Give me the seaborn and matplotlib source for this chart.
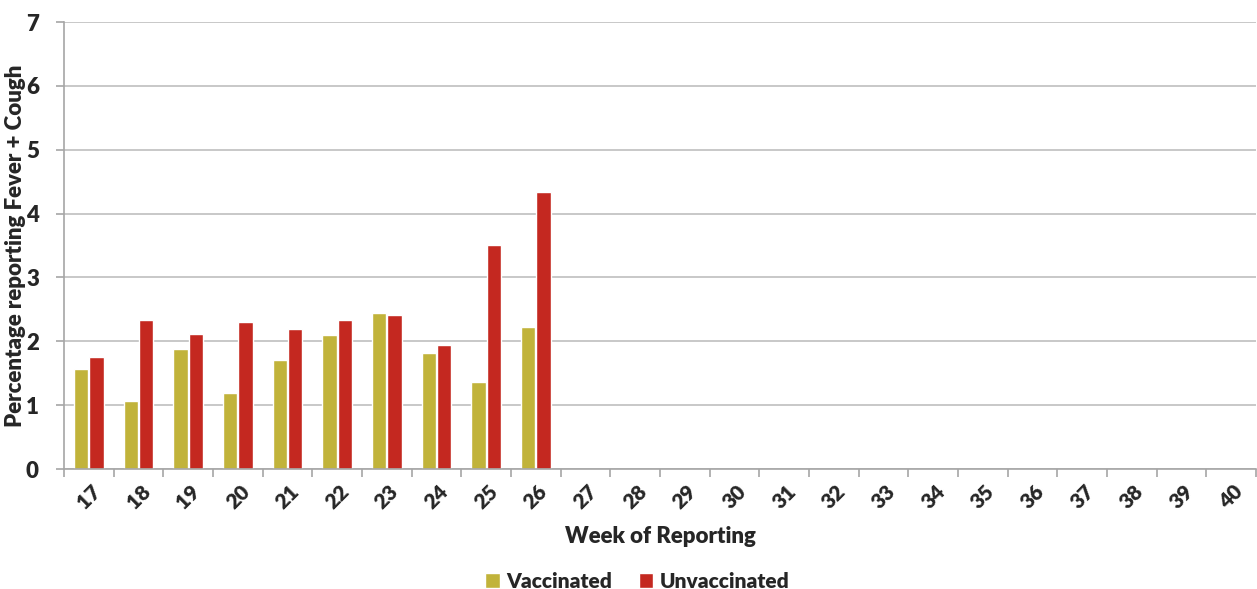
import numpy as np
import pandas as pd
import seaborn as sns
import matplotlib.pyplot as plt
from matplotlib.ticker import FixedLocator

# -------------------------------
# DATA
# -------------------------------
weeks = [str(w) for w in range(17, 41)]
vaccinated = [1.56, 1.07, 1.88, 1.19, 1.71, 2.10, 2.45, 1.82, 1.37, 2.22]
unvaccinated = [1.75, 2.33, 2.11, 2.30, 2.19, 2.34, 2.41, 1.94, 3.51, 4.34]
series_names = ["Vaccinated", "Unvaccinated"]
colors = ["#C1B33A", "#C42820"]

rows = []
for i, w in enumerate(weeks):
    v = vaccinated[i] if i < len(vaccinated) else np.nan
    u = unvaccinated[i] if i < len(unvaccinated) else np.nan
    rows.append({"week": w, "group": series_names[0], "pct": v})
    rows.append({"week": w, "group": series_names[1], "pct": u})
df = pd.DataFrame(rows)

# -------------------------------
# STYLE
# -------------------------------
sns.set_theme(style="white")
plt.rcParams["font.family"] = ["Lato", "DejaVu Sans"]
W = "heavy"

fig = plt.figure(figsize=(12.57, 5.89), dpi=100)
ax = fig.add_axes([0.0509, 0.2037, 0.9483, 0.7589])

sns.barplot(
    data=df.dropna(),
    x="week",
    y="pct",
    hue="group",
    order=weeks,
    hue_order=series_names,
    palette=colors,
    width=0.62,
    gap=0.07,
    errorbar=None,
    saturation=1,
    ax=ax,
)

ax.set_xlim(-0.5, len(weeks) - 0.5)
ax.set_ylim(0, 7)
ax.set_yticks(range(0, 8))
ax.yaxis.grid(True, color="#BFBFBF", linewidth=1.2)
ax.set_axisbelow(True)

for side in ["top", "right"]:
    ax.spines[side].set_visible(False)
for side in ["left", "bottom"]:
    ax.spines[side].set_color("#A6A6A6")
    ax.spines[side].set_linewidth(1.2)

# category boundary ticks
ax.xaxis.set_minor_locator(FixedLocator(np.arange(-0.5, len(weeks), 1.0)))
ax.tick_params(axis="x", which="minor", length=6, width=1.2, color="#A6A6A6", direction="out", bottom=True)
ax.tick_params(axis="x", which="major", length=0, pad=9)
ax.tick_params(axis="y", which="major", length=6, width=1.2, color="#A6A6A6", direction="out", left=True, pad=12)

ax.set_xticks(range(len(weeks)))
ax.set_xticklabels(weeks, rotation=45, fontsize=15, fontweight=W, ha="center", va="top")
for lab in ax.get_yticklabels():
    lab.set_fontsize(16)
    lab.set_fontweight(W)

ax.set_xlabel("Week of Reporting", fontsize=16, fontweight=W, labelpad=10)
ax.set_ylabel("Percentage reporting Fever + Cough", fontsize=16, fontweight=W)
ax.yaxis.set_label_coords(-0.032, 0.5)

handles, labels = ax.get_legend_handles_labels()
ax.get_legend().remove()
fig.legend(
    handles, labels,
    loc="lower center",
    bbox_to_anchor=(0.507, -0.035),
    ncol=2,
    frameon=False,
    handlelength=0.7,
    handleheight=0.7,
    handletextpad=0.3,
    columnspacing=1.3,
    prop={"weight": W, "size": 15},
)

fig.savefig("out.png", dpi=100)
plt.close(fig)
